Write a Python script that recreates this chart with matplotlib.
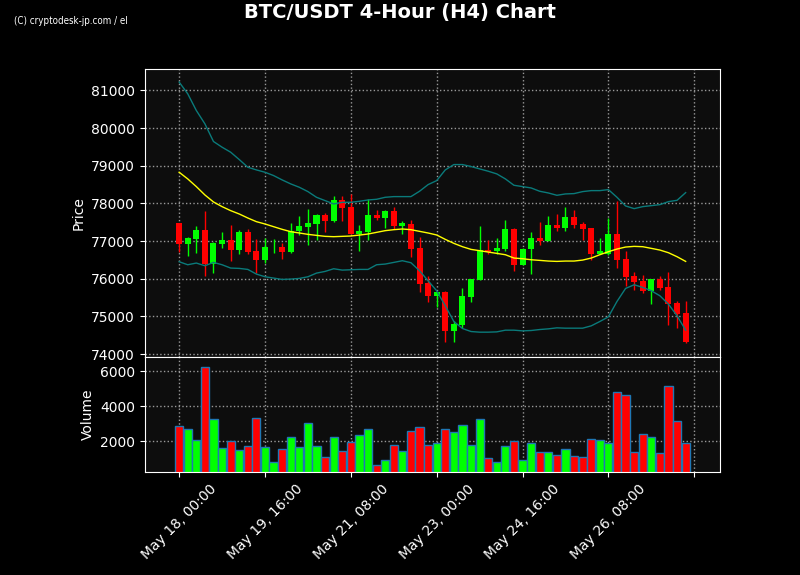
import numpy as np
import pandas as pd
import matplotlib
matplotlib.use("Agg")
import matplotlib.pyplot as plt
from matplotlib.ticker import MultipleLocator, FuncFormatter

# 4h candles from May 18 00:00
dates = pd.date_range("2025-05-18 00:00", periods=60, freq="4h")

opens = [77478, 76929, 77053, 77292, 76398, 76929, 77026, 76770, 77239, 76734,
         76504, 76840, 76832, 76717, 77265, 77380, 77460, 77690, 77531, 78088,
         77903, 77186, 77248, 77690, 77619, 77796, 77407, 77451, 76814, 75885,
         75549, 75646, 74610, 74779, 75522, 75973, 76761, 76743, 76787, 77318,
         76371, 76787, 77080, 77009, 77425, 77354, 77637, 77451, 77345, 76664,
         76646, 77186, 76522, 76071, 75938, 75681, 75991, 75779, 75354, 75088]
highs = [77480, 77097, 77407, 77805, 76970, 77230, 77416, 77283, 77310, 77044,
         77071, 77044, 76938, 77469, 77655, 77858, 77717, 77752, 78186, 78186,
         78239, 77416, 78106, 77814, 77823, 77894, 77540, 77566, 77097, 76080,
         75650, 75664, 74867, 75752, 76000, 77407, 77026, 77071, 77549, 77345,
         76805, 77239, 77496, 77655, 77708, 77894, 77814, 77504, 77350, 77071,
         77620, 78071, 76726, 76186, 76106, 76000, 76080, 76168, 75416, 75416]
lows = [76708, 76593, 76672, 76071, 76141, 76805, 76478, 76646, 76646, 76141,
        76407, 76672, 76513, 76690, 77150, 76894, 77026, 77230, 77513, 77531,
        77180, 76726, 77026, 77557, 77336, 77310, 77186, 76566, 75655, 75372,
        75239, 74310, 74310, 74699, 75380, 75956, 76646, 76646, 76743, 76203,
        76354, 76115, 76903, 76991, 77274, 77274, 77336, 77026, 76496, 76646,
        76640, 76274, 75805, 75699, 75619, 75318, 75699, 74770, 74699, 74283]
closes = [76929, 77080, 77292, 76389, 76947, 77026, 76770, 77239, 76717, 76504,
          76832, 76855, 76717, 77265, 77398, 77478, 77681, 77540, 78088, 77885,
          77186, 77265, 77690, 77619, 77796, 77407, 77469, 76796, 75867, 75549,
          75646, 74610, 74805, 75540, 75991, 76752, 76708, 76814, 77318, 76371,
          76787, 77071, 77009, 77425, 77354, 77637, 77434, 77327, 76664, 76734,
          77186, 76504, 76053, 75920, 75681, 75991, 75752, 75336, 75071, 74327]
volumes = [2865, 2692, 2058, 6211, 3269, 1596, 2000, 1481, 1711, 3327,
           1654, 788, 1538, 2231, 1654, 3038, 1711, 1077, 2231, 1423,
           1961, 2346, 2692, 615, 904, 1769, 1423, 2577, 2808, 1769,
           1885, 2692, 2538, 2923, 1769, 3269, 1019, 788, 1711, 2000,
           904, 1885, 1365, 1365, 1192, 1538, 1135, 1077, 2115, 2058,
           1885, 4827, 4654, 1365, 2404, 2231, 1308, 5173, 3154, 1885]

# Bollinger bands (20)
bb_upper = [81222, 80911, 80468, 80113, 79644, 79493, 79360, 79165, 78961, 78890,
            78828, 78740, 78624, 78518, 78429, 78314, 78163, 78075, 77986, 78030,
            78030, 78057, 78092, 78110, 78163, 78181, 78181, 78181, 78323, 78500,
            78606, 78890, 79032, 79032, 78979, 78917, 78855, 78784, 78651, 78482,
            78447, 78411, 78323, 78278, 78216, 78252, 78261, 78314, 78340, 78340,
            78367, 78163, 77933, 77862, 77915, 77941, 77968, 78048, 78083, 78287]
bb_mid = [78828, 78651, 78447, 78225, 78039, 77915, 77809, 77720, 77613, 77516,
          77454, 77383, 77312, 77250, 77215, 77179, 77152, 77126, 77117, 77126,
          77135, 77160, 77188, 77232, 77277, 77303, 77321, 77303, 77259, 77215,
          77162, 77046, 76940, 76851, 76780, 76745, 76709, 76674, 76638, 76550,
          76532, 76505, 76488, 76470, 76461, 76470, 76470, 76496, 76550, 76638,
          76718, 76789, 76842, 76860, 76851, 76807, 76762, 76691, 76585, 76461]
bb_lower = [76452, 76372, 76417, 76346, 76434, 76372, 76284, 76275, 76248, 76124,
            76053, 76018, 75982, 75991, 76009, 76053, 76150, 76195, 76266, 76230,
            76239, 76248, 76248, 76372, 76390, 76434, 76479, 76426, 76213, 75947,
            75681, 75282, 74865, 74679, 74599, 74582, 74582, 74590, 74635, 74635,
            74617, 74626, 74652, 74670, 74697, 74688, 74688, 74688, 74750, 74865,
            74989, 75397, 75743, 75840, 75770, 75681, 75548, 75326, 75016, 74635]

x = np.arange(len(dates))
o = np.array(opens)
c = np.array(closes)
up = c >= o
colors = np.where(up, "#00ff00", "#ff0000")

fig = plt.figure(figsize=(8, 5.75), dpi=100, facecolor="black")
ax = fig.add_axes([0.181, 0.380, 0.719, 0.500])
axv = fig.add_axes([0.181, 0.179, 0.719, 0.201], sharex=ax)

for a in (ax, axv):
    a.set_facecolor("#0d0d0d")
    a.grid(True, color="#999999", linestyle=":", linewidth=1)
    a.tick_params(colors="white", labelsize=10)
    for s in a.spines.values():
        s.set_color("white")
    a.set_axisbelow(True)

# candles
ax.vlines(x, lows, highs, color=colors, linewidth=1)
ax.bar(x, np.abs(c - o), bottom=np.minimum(o, c), width=0.7, color=colors)

ax.plot(x, bb_upper, color="#0a7a7a", linewidth=1)
ax.plot(x, bb_lower, color="#0a7a7a", linewidth=1)
ax.plot(x, bb_mid, color="yellow", linewidth=1)
ax.set_ylabel("Price", color="white")
plt.setp(ax.get_xticklabels(), visible=False)

# volume
axv.bar(x, volumes, width=0.95, color=colors, edgecolor="#1f77b4", linewidth=1)
axv.set_ylim(230, max(volumes) * 1.1)
axv.set_ylabel("Volume", color="white")

axv.set_xlim(-4, 63)
axv.xaxis.set_major_locator(MultipleLocator(10))


def fmt_date(v, pos):
    i = int(round(v))
    if 0 <= i < len(dates):
        return dates[i].strftime("%b %d, %H:%M")
    return ""


axv.xaxis.set_major_formatter(FuncFormatter(fmt_date))
plt.setp(axv.get_xticklabels(), rotation=45)

fig.suptitle("BTC/USDT 4-Hour (H4) Chart", color="white", fontsize=14,
             fontweight="bold", y=0.995)
fig.text(0.018, 0.958, "(C) cryptodesk-jp.com / el", color="white", fontsize=7,
         family="DejaVu Sans", stretch="condensed")

fig.savefig("out.png", facecolor="black")
